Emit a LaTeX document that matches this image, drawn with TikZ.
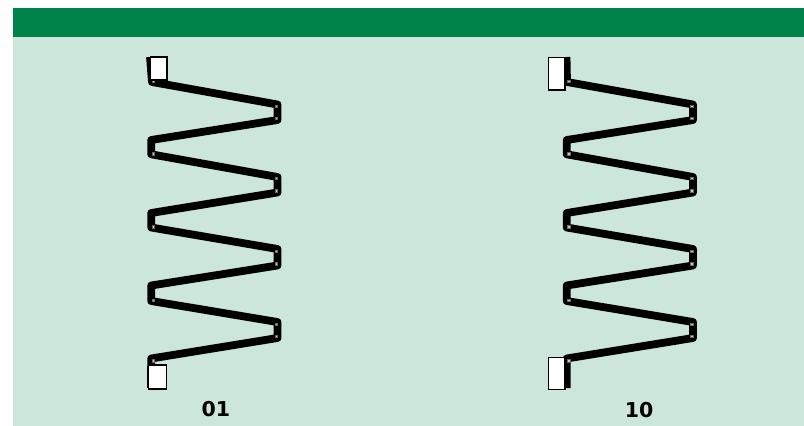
\documentclass[tikz,border=0pt]{standalone}
\usepackage{fontspec}
\setmainfont{DejaVu Sans}
\definecolor{barcol}{RGB}{0,130,75}
\definecolor{bgcol}{RGB}{204,230,219}
\definecolor{dotcol}{RGB}{200,200,200}
\begin{document}
\begin{tikzpicture}[x=1pt,y=-1pt,
  wire/.style={line width=7.8pt,line join=round,draw=black},
  endbox/.style={draw=black,line width=1.3pt,fill=white},
  dotmark/.style={fill=dotcol,draw=black!60,line width=0.4pt},
  lab/.style={font=\bfseries\fontsize{20.5}{24}\selectfont,inner sep=0pt,anchor=center}]
\useasboundingbox (0,0) rectangle (804,426);
\fill[bgcol] (13,8) rectangle (804,426);
\fill[barcol] (13,8) rectangle (804,37);
% springs
\foreach \o/\ta/\tb/\ba in {0/150/152/151, 415.5/566.5/567/566.7}{
  \draw[wire] (\ta,57) -- (\tb,82)
    -- (277.5+\o,104.5) -- (277.5+\o,120) -- (151.2+\o,140) -- (151.2+\o,154.3)
    -- (277.5+\o,177) -- (277.5+\o,192.5) -- (151.2+\o,213) -- (151.2+\o,227.5)
    -- (277.5+\o,249) -- (277.5+\o,265.5) -- (151.2+\o,285.5) -- (151.2+\o,301)
    -- (277.5+\o,322) -- (277.5+\o,338) -- (151.2+\o,358.5) -- (\ba,388);
  \foreach \y in {81,153.5,226.7,300,360.7}{
    \filldraw[dotmark] (153.3+\o-1.2,\y-1.2) rectangle ++(2.4,2.4);}
  \foreach \y in {106,118,178.3,190.7,251,263.7,324,336.3}{
    \filldraw[dotmark] (276+\o-1.2,\y-1.2) rectangle ++(2.4,2.4);}
}
% end boxes
\draw[endbox] (150.7,57) rectangle (167,80);
\draw[endbox] (148.3,365) rectangle (166.7,389);
\draw[endbox] (548.3,57.3) rectangle (565,90);
\draw[endbox] (548.3,357.3) rectangle (565,389.3);
% labels
\node[lab] (l01) at (215.8,409.5) {01};
\node[lab] (l10) at (639.2,410.5) {10};
\end{tikzpicture}
\end{document}
